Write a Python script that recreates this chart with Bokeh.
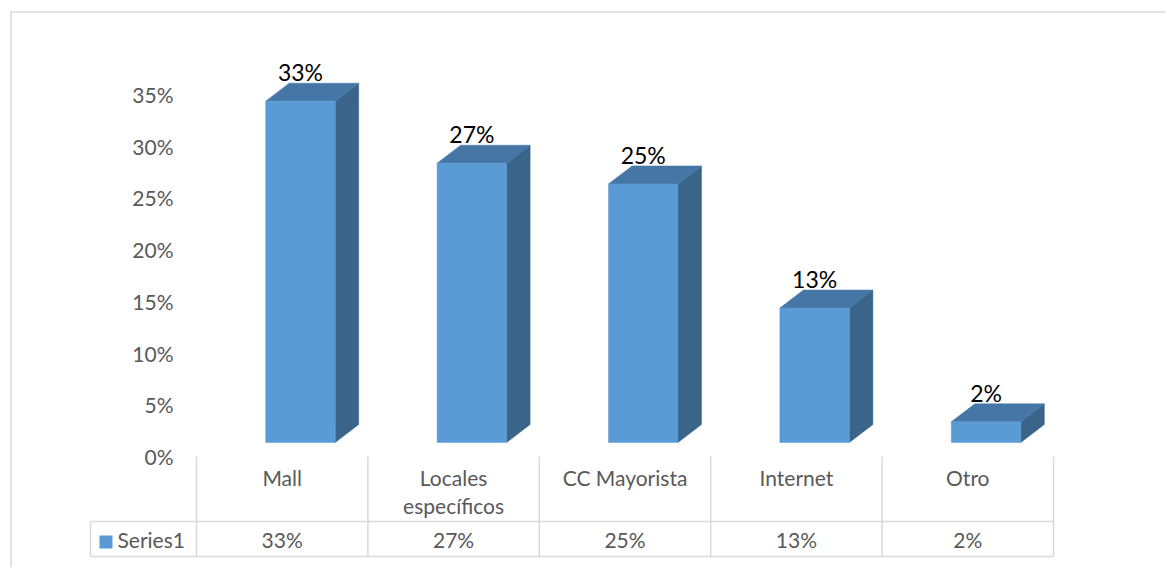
from bokeh.plotting import figure
from bokeh.models import FixedTicker, NumeralTickFormatter, Range1d, LinearAxis
from bokeh.core.properties import value
from bokeh.embed import file_html
from bokeh.resources import INLINE

# ---- data ----
categories = ["Mall", "Locales específicos", "CC Mayorista", "Internet", "Otro"]
category_lines = ["Mall", "Locales\nespecíficos", "CC Mayorista", "Internet", "Otro"]
values = [0.33, 0.27, 0.25, 0.13, 0.02]
series_name = "Series1"
y_ticks = [0, 0.05, 0.10, 0.15, 0.20, 0.25, 0.30, 0.35]

# ---- layout (page pixels -> data units) ----
W, H = 1165, 567
FRAME_LEFT = 196              # page x of the value axis / table start
ZERO_Y = 456                  # page y of value 0
UX = 171.4                    # px per category
UY = 362 / 0.35               # px per unit value

FONT = "Lato"
GRAY = "#595959"
LINE = "#D9D9D9"
FRONT = "#5B9BD5"
TOP = "#4576A6"
SIDE = "#3A6489"
GRAY_SIZE = "21px"


def X(px):
    return -0.5 + (px - FRAME_LEFT) / UX


def Y(py):
    return (ZERO_Y - py) / UY


def ddx(px):
    return px / UX


def ddy(px):
    return px / UY


p = figure(width=W, height=H, output_backend="svg", toolbar_location=None,
           x_range=Range1d(X(0), X(W)), y_range=Range1d(Y(H), Y(0)),
           x_axis_type=None, y_axis_type=None,
           min_border_left=0, min_border_right=0, min_border_top=0, min_border_bottom=0)
p.outline_line_color = None
p.grid.visible = False
p.background_fill_color = "white"
p.border_fill_color = "white"

ax = LinearAxis(fixed_location=X(FRAME_LEFT))
ax.ticker = FixedTicker(ticks=y_ticks)
ax.formatter = NumeralTickFormatter(format="0%")
ax.axis_line_color = None
ax.major_tick_line_color = None
ax.minor_tick_line_color = None
ax.major_tick_out = 0
ax.major_tick_in = 0
ax.major_label_standoff = 23
ax.major_label_text_font = FONT
ax.major_label_text_font_size = GRAY_SIZE
ax.major_label_text_color = GRAY
p.add_layout(ax, "left")

# ---- chart-area border (top and left edges) ----
p.segment(x0=[X(10), X(10.5)], y0=[Y(11.5), Y(11)], x1=[X(W), X(10.5)], y1=[Y(11.5), Y(H)],
          line_color=LINE, line_width=1.5)

# ---- 3D columns ----
FRONT_OFF = -16.5   # px from category centre to front-face left
FRONT_W = 69.5
DEPTH_X = 23.5
DEPTH_Y = 18
BASE = ddy(14)

lefts, rights, bottoms, tops = [], [], [], []
top_xs, top_ys, side_xs, side_ys = [], [], [], []
lab_x, lab_y, lab_t = [], [], []
for i, v in enumerate(values):
    L = i + ddx(FRONT_OFF)
    R = L + ddx(FRONT_W)
    B = BASE
    T = BASE + v
    lefts.append(L); rights.append(R); bottoms.append(B); tops.append(T)
    top_xs.append([L, R, R + ddx(DEPTH_X), L + ddx(DEPTH_X)])
    top_ys.append([T, T, T + ddy(DEPTH_Y), T + ddy(DEPTH_Y)])
    side_xs.append([R, R + ddx(DEPTH_X), R + ddx(DEPTH_X), R])
    side_ys.append([B, B + ddy(DEPTH_Y), T + ddy(DEPTH_Y), T])
    lab_x.append((L + R) / 2)
    lab_y.append(T + ddy(DEPTH_Y) + ddy(11))
    lab_t.append(f"{round(v * 100)}%")

p.patches(side_xs, side_ys, fill_color=SIDE, line_color=SIDE, line_width=0.5)
p.patches(top_xs, top_ys, fill_color=TOP, line_color=TOP, line_width=0.5)
p.quad(left=lefts, right=rights, bottom=bottoms, top=tops,
       fill_color=FRONT, line_color=FRONT, line_width=0.5)

p.text(x=lab_x, y=lab_y, text=lab_t, text_align="center", text_baseline="alphabetic",
       text_font=value(FONT), text_font_size="23px", text_color="black")

# ---- data table ----
n = len(categories)
bx = [i - 0.5 for i in range(n + 1)]
p.segment(x0=bx, y0=[Y(ZERO_Y)] * (n + 1), x1=bx, y1=[Y(556)] * (n + 1),
          line_color=LINE, line_width=1.5)
p.segment(x0=[X(90)] * 3, y0=[Y(521), Y(556), Y(521)], x1=[n - 0.5, n - 0.5, X(90)],
          y1=[Y(521), Y(556), Y(556)], line_color=LINE, line_width=1.5)

p.text(x=list(range(n)), y=[Y(464)] * n, text=category_lines, text_align="center",
       text_baseline="top", text_font=value(FONT), text_font_size=GRAY_SIZE,
       text_color=GRAY, text_line_height=1.12)
p.text(x=list(range(n)), y=[Y(539)] * n, text=lab_t, text_align="center",
       text_baseline="middle", text_font=value(FONT), text_font_size=GRAY_SIZE,
       text_color=GRAY)

# legend key cell
p.quad(left=[X(99)], right=[X(112)], bottom=[Y(548)], top=[Y(535)],
       fill_color=FRONT, line_color=None)
p.text(x=[X(117)], y=[Y(539)], text=[series_name], text_align="left", text_baseline="middle",
       text_font=value(FONT), text_font_size=GRAY_SIZE, text_color=GRAY)

open("out.html", "w").write(file_html(p, INLINE))
